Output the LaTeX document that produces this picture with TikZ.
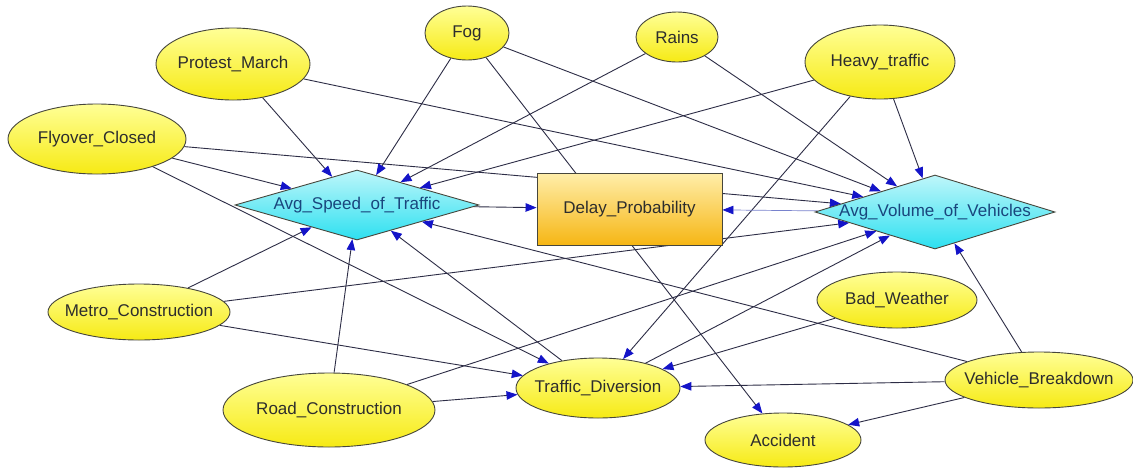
\documentclass[tikz,border=0pt]{standalone}
\usepackage{fontspec}
\setmainfont{Liberation Sans}
\usetikzlibrary{shapes.geometric,arrows.meta}

\definecolor{edgegray}{RGB}{45,45,70}
\definecolor{tipblue}{RGB}{20,20,200}
\definecolor{linkblue}{RGB}{120,130,205}
\definecolor{nodeline}{RGB}{70,70,60}
\definecolor{ytop}{RGB}{255,255,150}
\definecolor{ybot}{RGB}{246,234,20}
\definecolor{ctop}{RGB}{190,246,250}
\definecolor{cbot}{RGB}{45,224,240}
\definecolor{otop}{RGB}{255,238,170}
\definecolor{obot}{RGB}{246,182,20}
\definecolor{txt}{RGB}{45,45,45}
\definecolor{dtxt}{RGB}{25,70,125}

\pgfdeclarelayer{bg}
\pgfdeclarelayer{edges}
\pgfsetlayers{bg,edges,main}

% zero-width label so the shape keeps the size given to it
\newcommand{\nlbl}[1]{\makebox[0pt][c]{#1}}

\tikzset{
  evnode/.style={ellipse, draw=nodeline, line width=0.9pt,
    top color=ytop, bottom color=ybot, inner sep=0pt, text=txt,
    font=\fontsize{17}{19}\selectfont},
  decnode/.style={diamond, aspect=3.5, draw=nodeline, line width=0.9pt,
    top color=ctop, bottom color=cbot, inner sep=0pt, text=dtxt,
    font=\fontsize{17}{19}\selectfont},
  utilnode/.style={rectangle, draw=nodeline, line width=0.9pt,
    top color=otop, bottom color=obot, inner sep=0pt, text=txt,
    font=\fontsize{17}{19}\selectfont},
  link/.style={draw=edgegray, line width=0.9pt,
    -{Triangle[length=11pt,width=8.5pt,color=tipblue]}},
  weaklink/.style={link, draw=linkblue, line width=0.7pt},
}

\begin{document}
\begin{tikzpicture}[x=1pt,y=-1pt]
\useasboundingbox (0,0) rectangle (1133,475);
\begin{pgfonlayer}{bg}
  \fill[white] (0,0) rectangle (1133,475);
\end{pgfonlayer}

% chance nodes
\node[evnode, minimum width=154pt, minimum height=72pt] (pm) at (233,64) {\nlbl{Protest\_March}};
\node[evnode, minimum width=178pt, minimum height=70pt] (fc) at (97,139) {\nlbl{Flyover\_Closed}};
\node[evnode, minimum width=84pt, minimum height=54pt] (fog) at (467,33) {\nlbl{Fog}};
\node[evnode, minimum width=82pt, minimum height=50pt] (rain) at (677,37) {\nlbl{Rains}};
\node[evnode, minimum width=150pt, minimum height=74pt] (ht) at (880,62) {\nlbl{Heavy\_traffic}};
\node[evnode, minimum width=160pt, minimum height=56pt] (bw) at (897,300) {\nlbl{Bad\_Weather}};
\node[evnode, minimum width=182pt, minimum height=56pt] (mc) at (139,312) {\nlbl{Metro\_Construction}};
\node[evnode, minimum width=212pt, minimum height=74pt] (rc) at (329,410) {\nlbl{Road\_Construction}};
\node[evnode, minimum width=164pt, minimum height=60pt] (td) at (598,388) {\nlbl{Traffic\_Diversion}};
\node[evnode, minimum width=156pt, minimum height=54pt] (acc) at (783,440) {\nlbl{Accident}};
\node[evnode, minimum width=188pt, minimum height=56pt] (vb) at (1039,380) {\nlbl{Vehicle\_Breakdown}};

% decision nodes
\node[decnode, minimum width=244pt, minimum height=70pt] (ast) at (357,205) {\nlbl{Avg\_Speed\_of\_Traffic}};
\node[decnode, minimum width=240pt, minimum height=74pt] (avv) at (935,212) {\nlbl{Avg\_Volume\_of\_Vehicles}};

% utility node
\node[utilnode, minimum width=185pt, minimum height=72pt] (dp) at (629.5,209) {\nlbl{Delay\_Probability}};

\begin{pgfonlayer}{edges}
  \draw[link] (pm) -- (ast);
  \draw[link] (pm) -- (avv);
  \draw[link] (fc) -- (ast);
  \draw[link] (fc) -- (avv);
  \draw[link] (fc) -- (td);
  \draw[link] (fog) -- (ast);
  \draw[link] (fog) -- (avv);
  \draw[link] (fog) -- (acc);
  \draw[link] (rain) -- (ast);
  \draw[link] (rain) -- (avv);
  \draw[link] (ht) -- (ast);
  \draw[link] (ht) -- (avv);
  \draw[link] (ht) -- (td);
  \draw[link] (ast) -- (dp);
  \draw[weaklink] (avv) -- (dp);
  \draw[link] (mc) -- (ast);
  \draw[link] (mc) -- (avv);
  \draw[link] (mc) -- (td);
  \draw[link] (rc) -- (ast);
  \draw[link] (rc) -- (td);
  \draw[link] (rc) -- (avv);
  \draw[link] (td) -- (ast);
  \draw[link] (td) -- (avv);
  \draw[link] (bw) -- (td);
  \draw[link] (vb) -- (avv);
  \draw[link] (vb) -- (ast);
  \draw[link] (vb) -- (td);
  \draw[link] (vb) -- (acc);
\end{pgfonlayer}
\end{tikzpicture}
\end{document}
